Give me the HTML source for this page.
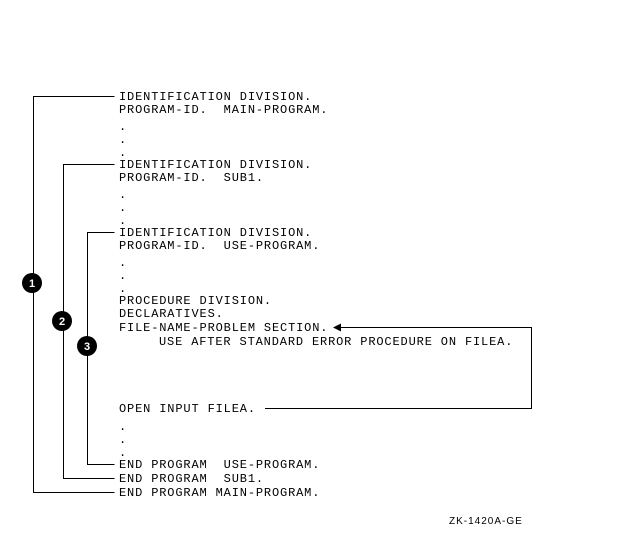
<!DOCTYPE html>
<html><head><style>
html,body{margin:0;padding:0;background:#fff}
svg text{font-family:"Liberation Mono",monospace;font-size:12px;letter-spacing:0.85px;fill:#000;white-space:pre}
</style></head><body>
<svg width="638" height="530" viewBox="0 0 638 530" xmlns="http://www.w3.org/2000/svg" xml:space="preserve">
<g stroke="#000" stroke-width="1" fill="none">
<polyline points="114.5,96.5 33.5,96.5 33.5,492.5 114.5,492.5"/>
<polyline points="114.5,164.5 63.5,164.5 63.5,478.5 114.5,478.5"/>
<polyline points="114.5,232.5 87.5,232.5 87.5,464.5 114.5,464.5"/>
<polyline points="265,408.5 531.5,408.5 531.5,327.5 340,327.5"/>
</g>
<polygon points="333,327.5 341,323.5 341,331.5" fill="#000"/>
<g fill="#000">
<circle cx="32" cy="283" r="10"/>
<circle cx="62" cy="321" r="10"/>
<circle cx="87" cy="346" r="10"/>
</g>
<text x="32" y="287" text-anchor="middle" style="font-family:'Liberation Sans',sans-serif;font-size:11px;font-weight:bold;fill:#fff;letter-spacing:0">1</text>
<text x="62" y="325" text-anchor="middle" style="font-family:'Liberation Sans',sans-serif;font-size:11px;font-weight:bold;fill:#fff;letter-spacing:0">2</text>
<text x="87" y="350" text-anchor="middle" style="font-family:'Liberation Sans',sans-serif;font-size:11px;font-weight:bold;fill:#fff;letter-spacing:0">3</text>
<text x="119" y="100">IDENTIFICATION DIVISION.</text>
<text x="119" y="113">PROGRAM-ID.  MAIN-PROGRAM.</text>
<text x="119" y="130">.</text><text x="119" y="143">.</text><text x="119" y="156">.</text>
<text x="119" y="168">IDENTIFICATION DIVISION.</text>
<text x="119" y="181">PROGRAM-ID.  SUB1.</text>
<text x="119" y="198">.</text><text x="119" y="211">.</text><text x="119" y="224">.</text>
<text x="119" y="236">IDENTIFICATION DIVISION.</text>
<text x="119" y="249">PROGRAM-ID.  USE-PROGRAM.</text>
<text x="119" y="266">.</text><text x="119" y="279">.</text><text x="119" y="292">.</text>
<text x="119" y="304">PROCEDURE DIVISION.</text>
<text x="119" y="317">DECLARATIVES.</text>
<text x="119" y="331">FILE-NAME-PROBLEM SECTION.</text>
<text x="159" y="345">USE AFTER STANDARD ERROR PROCEDURE ON FILEA.</text>
<text x="119" y="412">OPEN INPUT FILEA.</text>
<text x="119" y="430">.</text><text x="119" y="443">.</text><text x="119" y="456">.</text>
<text x="119" y="468">END PROGRAM  USE-PROGRAM.</text>
<text x="119" y="482">END PROGRAM  SUB1.</text>
<text x="119" y="496">END PROGRAM MAIN-PROGRAM.</text>
<text x="449" y="524" style="font-family:'Liberation Sans',sans-serif;font-size:10px;letter-spacing:1px">ZK-1420A-GE</text>
</svg>
</body></html>
